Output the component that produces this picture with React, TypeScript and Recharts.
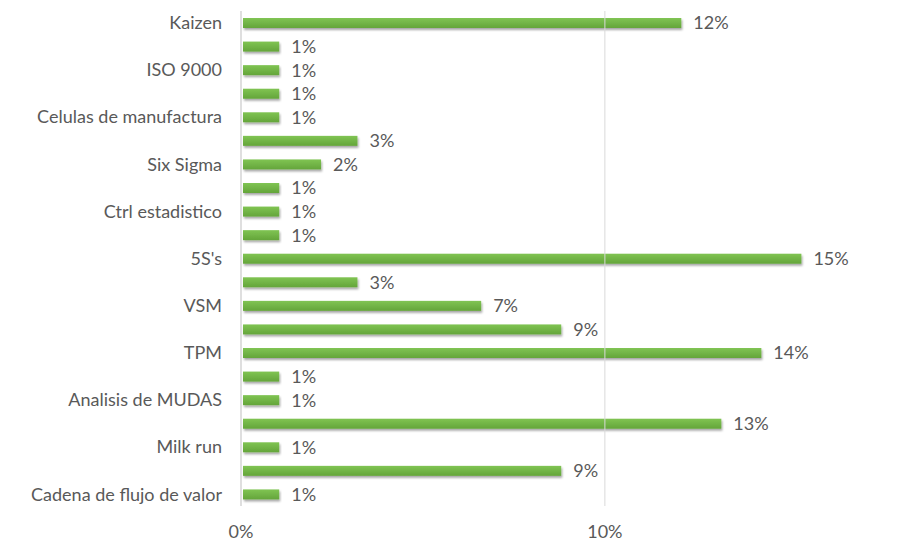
import { BarChart, Bar, XAxis, YAxis, ReferenceLine, LabelList } from 'recharts';

// Top to bottom, as drawn. Only every other name is printed on the axis.
const categories = [
  'Kaizen',
  'Kanban',
  'ISO 9000',
  'Poka Yoke',
  'Celulas de manufactura',
  'SMED',
  'Six Sigma',
  'Jidoka',
  'Ctrl estadistico',
  'Heijunka',
  "5S's",
  'Andon',
  'VSM',
  'Just in time',
  'TPM',
  'Gemba',
  'Analisis de MUDAS',
  'Trabajo estandar',
  'Milk run',
  'Mejora continua',
  'Cadena de flujo de valor',
];
const shares = [
  12.1, 1.05, 1.05, 1.05, 1.05, 3.2, 2.2, 1.05, 1.05, 1.05, 15.4,
  3.2, 6.6, 8.8, 14.3, 1.05, 1.05, 13.2, 1.05, 8.8, 1.05,
];
const xTicks = [0, 10];

const data = categories.map((name, i) => ({ name, share: shares[i] }));

const textColor = '#595959';
const font = 'Lato, "Open Sans", sans-serif';

export default function App() {
  return (
    <div style={{ position: 'absolute', left: 0, top: 0, background: '#fff' }}>
      <BarChart
        width={907}
        height={551}
        data={data}
        layout="vertical"
        margin={{ top: 11, right: 11, bottom: 0, left: 0 }}
        barCategoryGap={7}
      >
        <defs>
          <linearGradient id="barFill" x1="0" y1="0" x2="0" y2="1">
            <stop offset="0%" stopColor="#80c453" />
            <stop offset="100%" stopColor="#64a53a" />
          </linearGradient>
          <filter id="barShadow" x="-5%" y="-40%" width="110%" height="200%">
            <feDropShadow dx="1" dy="2" stdDeviation="1.2" floodColor="#000" floodOpacity="0.35" />
          </filter>
        </defs>
        <XAxis
          type="number"
          domain={[0, 18]}
          ticks={xTicks}
          tickFormatter={(v) => `${v}%`}
          axisLine={false}
          tickLine={false}
          tickSize={0}
          tickMargin={19}
          height={45}
          tick={{ fill: textColor, fontSize: 18, fontFamily: font }}
        />
        <YAxis
          type="category"
          dataKey="name"
          width={241}
          interval={1}
          axisLine={{ stroke: '#bfbfbf' }}
          tickLine={false}
          tickSize={0}
          tickMargin={19}
          tick={{ fill: textColor, fontSize: 18, fontFamily: font }}
        />
        <ReferenceLine x={10} stroke="#d9d9d9" />
        <Bar
          dataKey="share"
          fill="url(#barFill)"
          barSize={10}
          isAnimationActive={false}
          shape={(props: any) => (
            <rect
              x={props.x + 2}
              y={props.y}
              width={Math.max(props.width - 2, 0)}
              height={props.height}
              fill="url(#barFill)"
              filter="url(#barShadow)"
            />
          )}
        >
          <LabelList
            dataKey="share"
            position="right"
            offset={12}
            formatter={(v: any) => `${Math.round(v)}%`}
            style={{ fill: textColor, fontSize: 18, fontFamily: font }}
          />
        </Bar>
      </BarChart>
    </div>
  );
}
